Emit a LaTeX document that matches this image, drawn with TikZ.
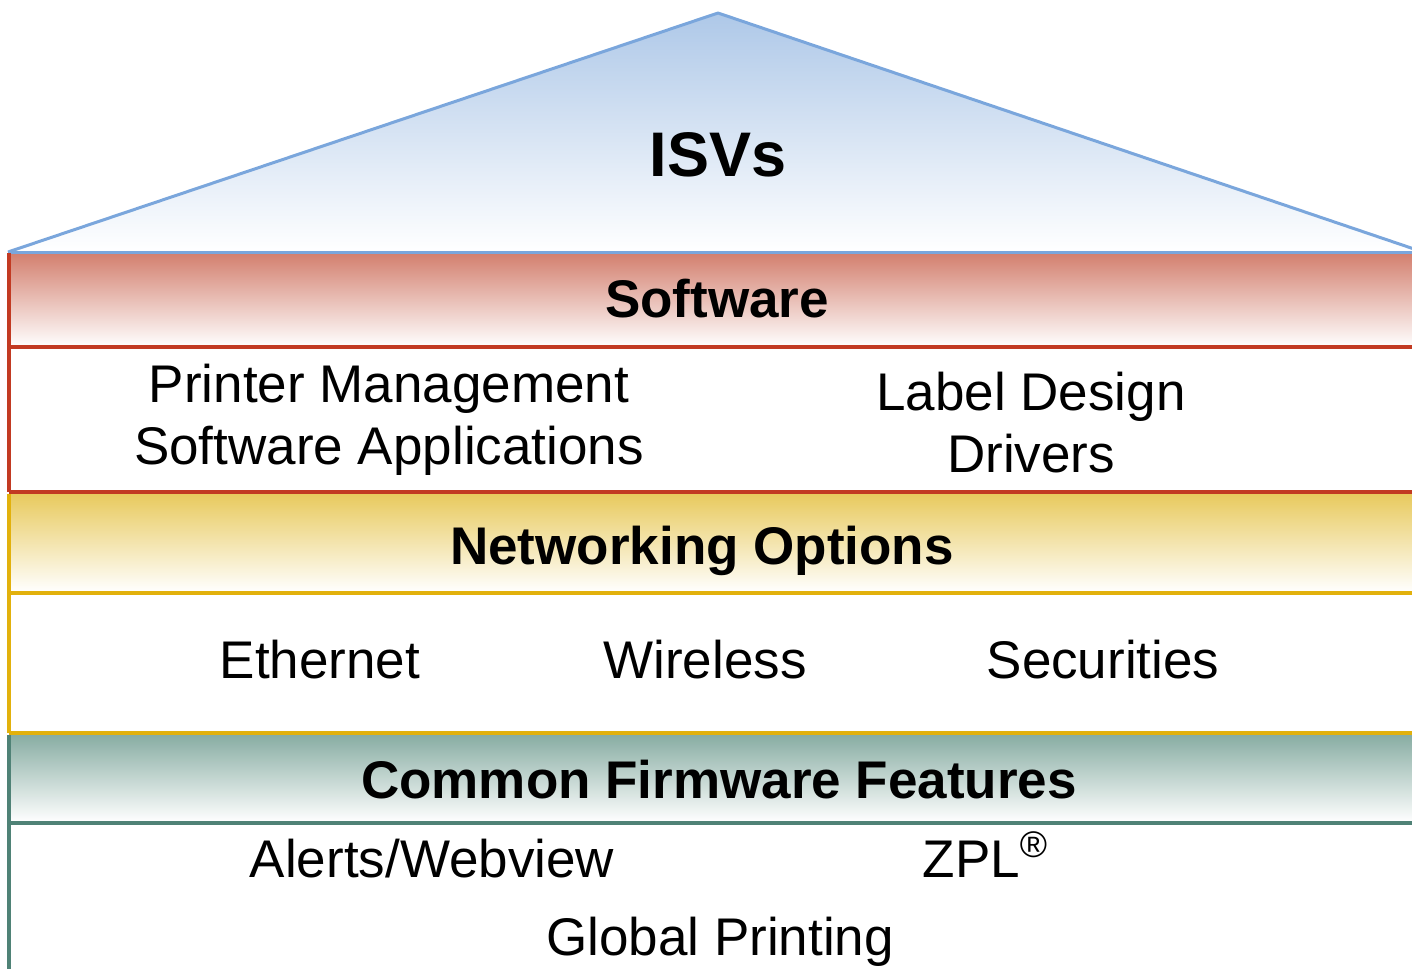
\documentclass[tikz,border=0pt]{standalone}
\usepackage{fontspec}
\setmainfont{Liberation Sans}
\definecolor{roofline}{HTML}{7AA6DC}
\definecolor{rooffill}{HTML}{AEC8E8}
\definecolor{swfill}{HTML}{D37F6E}
\definecolor{swline}{HTML}{C23A22}
\definecolor{netfill}{HTML}{E8CA5E}
\definecolor{netline}{HTML}{E2B10C}
\definecolor{fwfill}{HTML}{88ADA3}
\definecolor{fwline}{HTML}{4F8276}
\begin{document}
\begin{tikzpicture}[x=1pt,y=-1pt,
  band/.style={draw=none,top color=#1,middle color=#1!55!white,bottom color=white},
  head/.style={inner sep=0pt,anchor=base,font=\fontsize{53}{62}\selectfont\bfseries},
  item/.style={inner sep=0pt,anchor=base,font=\fontsize{53}{62}\selectfont},
  rule/.style={line width=3.5pt}]
\useasboundingbox (0,0) rectangle (1412,969);
% roof
\fill[top color=rooffill,middle color=rooffill!50!white,bottom color=white] (8,252) -- (718,13) -- (1412,248) -- (1412,252) -- cycle;
\draw[roofline,line width=3pt,line join=round] (8,252) -- (718,13) -- (1420,251);
\node[head,font=\fontsize{63}{70}\selectfont\bfseries] (isv) at (718,176) {ISVs};
% software
\fill[band=swfill] (9,253) rectangle (1412,347);
\draw[roofline,line width=3pt] (8,252) -- (1412,252);
\draw[swline,rule] (9,253) -- (9,492);
\draw[swline,rule] (9,347) -- (1412,347);
\draw[swline,rule] (9,492) -- (1412,492);
\node[head] (sw) at (717,317) {Software};
\node[item,anchor=north,align=center] (pms) at (389,364) {Printer Management\\Software Applications};
\node[item,anchor=north,align=center] (ldd) at (1031,372) {Label Design\\Drivers};
% networking
\fill[band=netfill] (9,494) rectangle (1412,592);
\draw[netline,rule] (9,494) -- (9,733);
\draw[netline,rule] (9,593) -- (1412,593);
\draw[netline,rule] (9,733) -- (1412,733);
\node[head] (net) at (702,564) {Networking Options};
\node[item] (eth) at (320,678) {Ethernet};
\node[item] (wls) at (705,678) {Wireless};
\node[item] (sec) at (1103,678) {Securities};
% firmware
\fill[band=fwfill] (9,735) rectangle (1412,822);
\draw[fwline,rule] (9,735) -- (9,969);
\draw[fwline,rule] (9,823) -- (1412,823);
\node[head] (fw) at (719,798) {Common Firmware Features};
\node[item] (alw) at (432,877) {Alerts/Webview};
\node[item] (zpl) at (985,877) {ZPL\raisebox{20pt}{\fontsize{37}{37}\selectfont ®}};
\node[item] (glp) at (720,955) {Global Printing};
\end{tikzpicture}
\end{document}
